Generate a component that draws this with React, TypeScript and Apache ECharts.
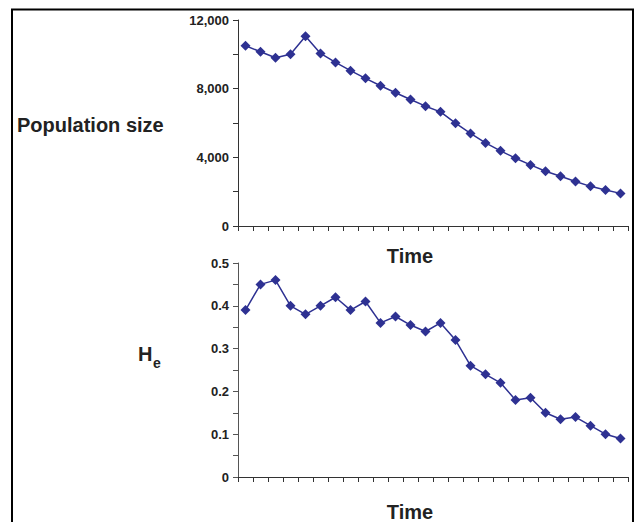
import React, { useEffect, useRef } from "react";
import * as echarts from "echarts";

const timePoints = Array.from({ length: 26 }, (_, i) => String(i + 1));
const populationSize = [
  10500, 10150, 9800, 10000, 11050, 10050, 9530, 9050, 8600, 8170, 7760, 7370,
  6980, 6650, 5990, 5390, 4840, 4380, 3950, 3560, 3190, 2900, 2590, 2310, 2100, 1900,
];
const heterozygosity = [
  0.39, 0.45, 0.46, 0.4, 0.38, 0.4, 0.42, 0.39, 0.41, 0.36, 0.375, 0.355, 0.34,
  0.36, 0.32, 0.26, 0.24, 0.22, 0.18, 0.185, 0.15, 0.135, 0.14, 0.12, 0.1, 0.09,
];

const FONT = "'Liberation Sans', Arial, Helvetica, sans-serif";
const LINE = "#2e3192";

export default function App() {
  const ref = useRef<HTMLDivElement>(null);
  useEffect(() => {
    if (!ref.current) return;
    const chart = echarts.init(ref.current, null, { renderer: "svg" });
    const xAxisBase = {
      type: "category" as const,
      data: timePoints,
      boundaryGap: true,
      axisLine: { lineStyle: { color: "#333", width: 1 } },
      axisTick: { show: true, interval: 0, length: 5, lineStyle: { color: "#333" } },
      axisLabel: { show: false },
      splitLine: { show: false },
    };
    const yLabel = {
      fontFamily: FONT,
      fontWeight: "bold" as const,
      fontSize: 13,
      color: "#222",
      margin: 9,
    };
    const titleFont = `bold 20px ${FONT}`;
    chart.setOption({
      animation: false,
      backgroundColor: "#fff",
      grid: [
        { left: 238, right: 7, top: 20, height: 206 },
        { left: 238, right: 7, top: 263, height: 214 },
      ],
      xAxis: [
        { ...xAxisBase, gridIndex: 0 },
        { ...xAxisBase, gridIndex: 1 },
      ],
      yAxis: [
        {
          type: "value",
          gridIndex: 0,
          min: 0,
          max: 12000,
          interval: 2000,
          axisLine: { show: true, lineStyle: { color: "#333" } },
          axisTick: { show: true, length: 5, lineStyle: { color: "#333" } },
          splitLine: { show: false },
          axisLabel: {
            ...yLabel,
            formatter: (v: number) => (v % 4000 === 0 ? v.toLocaleString("en-US") : ""),
          },
        },
        {
          type: "value",
          gridIndex: 1,
          min: 0,
          max: 0.5,
          interval: 0.05,
          axisLine: { show: true, lineStyle: { color: "#555" } },
          axisTick: { show: true, length: 5, lineStyle: { color: "#555" } },
          splitLine: { show: false },
          axisLabel: {
            ...yLabel,
            formatter: (v: number) => {
              const k = Math.round(v * 100);
              if (k % 10 !== 0) return "";
              return k === 0 ? "0" : (k / 100).toFixed(1);
            },
          },
        },
      ],
      series: [
        {
          type: "line",
          xAxisIndex: 0,
          yAxisIndex: 0,
          data: populationSize,
          symbol: "diamond",
          symbolSize: 10,
          lineStyle: { color: LINE, width: 1.5 },
          itemStyle: { color: LINE },
        },
        {
          type: "line",
          xAxisIndex: 1,
          yAxisIndex: 1,
          data: heterozygosity,
          symbol: "diamond",
          symbolSize: 10,
          lineStyle: { color: LINE, width: 1.5 },
          itemStyle: { color: LINE },
        },
      ],
      graphic: [
        {
          type: "rect",
          shape: { x: 12, y: 9.5, width: 621, height: 530 },
          style: { fill: "none", stroke: "#000", lineWidth: 2 },
          silent: true,
        },
        {
          type: "text",
          x: 17,
          y: 125,
          style: {
            text: "Population size",
            font: titleFont,
            fill: "#222",
            textAlign: "left",
            textVerticalAlign: "middle",
          },
        },
        {
          type: "text",
          x: 138,
          y: 354,
          style: {
            text: "H",
            font: titleFont,
            fill: "#222",
            textAlign: "left",
            textVerticalAlign: "middle",
          },
        },
        {
          type: "text",
          x: 153,
          y: 363,
          style: {
            text: "e",
            font: `bold 14px ${FONT}`,
            fill: "#222",
            textAlign: "left",
            textVerticalAlign: "middle",
          },
        },
        {
          type: "text",
          x: 410,
          y: 256,
          style: {
            text: "Time",
            font: titleFont,
            fill: "#222",
            textAlign: "center",
            textVerticalAlign: "middle",
          },
        },
        {
          type: "text",
          x: 410,
          y: 512,
          style: {
            text: "Time",
            font: titleFont,
            fill: "#222",
            textAlign: "center",
            textVerticalAlign: "middle",
          },
        },
      ],
    });
    return () => chart.dispose();
  }, []);
  return <div ref={ref} style={{ width: 635, height: 522, position: "absolute", left: 0, top: 0 }} />;
}
